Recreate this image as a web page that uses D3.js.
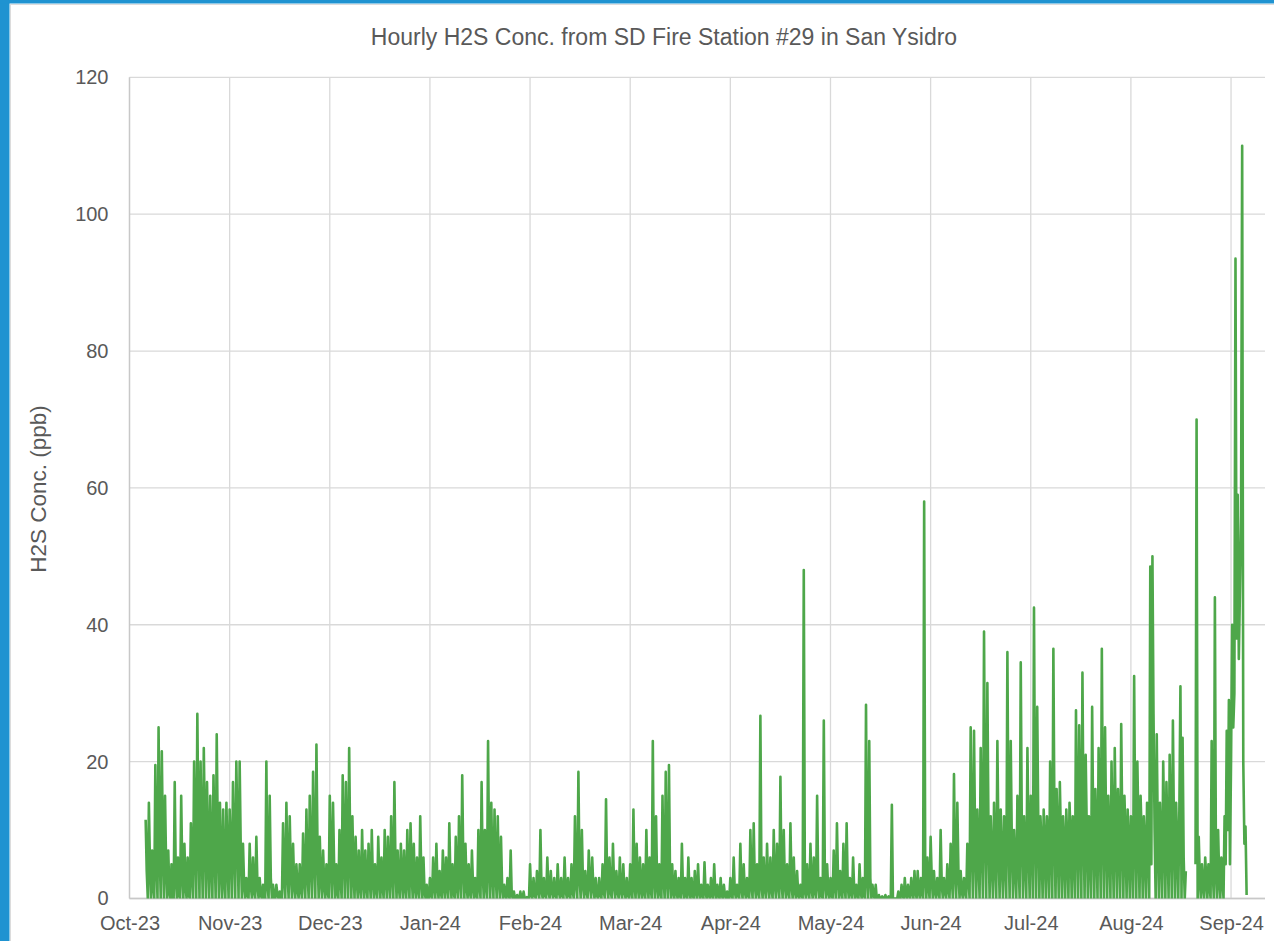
<!DOCTYPE html>
<html>
<head>
<meta charset="utf-8">
<script src="https://cdn.jsdelivr.net/npm/d3@7"></script>
<style>
  html, body { margin: 0; padding: 0; background: #ffffff; }
  svg { display: block; }
</style>
</head>
<body>
<svg id="chart" width="1274" height="941"></svg>
<script>
// ---------------- DATA ----------------
// 8-hourly readings (00:00, 08:00, 16:00 of each day), starting on the 1st of each month; null = no data
const title = "Hourly H2S Conc. from SD Fire Station #29 in San Ysidro";
const yAxisTitle = "H2S Conc. (ppb)";
const yTicks = [0, 20, 40, 60, 80, 100, 120];
const monthLabels = ["Oct-23","Nov-23","Dec-23","Jan-24","Feb-24","Mar-24","Apr-24","May-24","Jun-24","Jul-24","Aug-24","Sep-24"];

const oct23 = [null,null,null, null,null,null, null,null,null, null,null,null, null,null,null,
  11.5,4,0, 14,5,0, 7,2,0, 19.5,6,0, 25,7,0, 21.5,8,0, 15,5,0, 7,1,0, 5,0,0, 17,3,0, 6,0.5,0, 15,4,0, 8,2,0,
  6,0.5,0, 11,4,0, 20,9,0, 27,10,0, 20,8,0, 22,10,0, 17,7,0, 15,6,0, 18,8,0, 24,9,0, 14,5,0, 13,3,0, 14,6,0];
const nov23 = [13,7,0, 17,8,0, 20,10,0, 20,7,0, 8,2,0, 3,0.5,0, 8,2,0, 6,1,0, 9,2,0, 3,0.5,0, 2,0,0, 20,2,0, 15,3,0, 2,0,0, 2,0.5,0,
  1,0,0, 11,3,0, 14,4,0, 12,4,0, 8,2,0, 5,1.5,0, 5,1.5,0, 9.5,3,0, 13,4,0, 15,5,0, 18.5,6,0, 22.5,7,0, 9,3,0, 7,2,0, 5,1,0];
const dec23 = [15,5,0, 14,5,0, 5,1,0, 10,3,0, 18,7,0, 17,6,0, 22,7,0, 12,4,0, 9,3,0, 7,2,0, 10,3,0, 7,2,0, 8,3,0, 10,3,0, 5,1.5,0, 9,3,0,
  6,2,0, 10,3,0, 9,3,0, 12,4,0, 17,5,0, 7,2,0, 8,3,0, 7,2,0, 10,3,0, 11,4,0, 8,2,0, 6,1.5,0, 12,3,0, 6,1,0, 2,0,0];
const jan24 = [3,0.5,0, 6,2,0, 8,2,0, 4,1,0, 7,2,0, 6,2,0, 11,3,0, 5,1,0, 9,2,0, 12,3,0, 18,5,0, 8,2,0, 5,1,0, 7,2,0, 3,0.5,0, 10,2,0,
  17,4,0, 10,2,0, 23,5,0, 14,4,0, 13,4,0, 12,3,0, 9,2,0, 2,0.5,0, 3,0.5,0, 7,0.5,0, 1,0,0, 0.5,0,0, 1,0,0, 1,0,0, 0.2,0,0];
const feb24 = [5,0.5,0, 3,0.5,0, 4,1,0, 10,1,0, 3,0.5,0, 6,1,0, 4,1,0, 3,0.5,0, 5,1,0, 3,0.5,0, 6,1,0, 3,0.5,0, 5,1,0, 12,2,0, 18.5,3,0,
  10,2,0, 4,1,0, 7,2,0, 6,1.5,0, 3,0.5,0, 3,0.5,0, 5,1,0, 14.5,2,0, 6,1,0, 8,2,0, 4,1,0, 6,1,0, 5,1,0, 3,0.5,0];
const mar24 = [5,1,0, 13,2,0, 8,2,0, 6,1.5,0, 5,1,0, 10,2,0, 6,1.5,0, 23,3,0, 12,2,0, 5,1,0, 15,3,0, 18.5,3,0, 19.5,3,0, 5,1,0, 4,1,0, 3,0.5,0,
  8,1.5,0, 3,0.5,0, 6,1,0, 3,0.5,0, 4,1,0, 5,1,0, 2,0.5,0, 5.3,1,0, 2,0.5,0, 3,0.5,0, 5,1,0, 2,0.5,0, 3,0.5,0, 2,0.5,0, 1,0,0];
const apr24 = [3,0.5,0, 6,1,0, 2,0.5,0, 8,1.5,0, 5,1,0, 3,0.5,0, 10,2,0, 11,2,0, 5,1,0, 26.7,2,0, 6,1.5,0, 8,2,0, 6,1.5,0, 10,2,0, 8,2,0,
  17.8,2.5,0, 10,2,0, 5,1,0, 11,2,0, 6,1,0, 4,0.5,0, 2,0.5,0, 48,1,0, 5,1,0, 8,1.5,0, 6,1,0, 15,2,0, 3,0.5,0, 26,2,0, 5,1,0];
const may24 = [3,0.5,0, 7,2,0, 11,3,0, 4,1,0, 8,2,0, 11,2,0, 3,1,0, 6,1.5,0, 2,0.5,0, 5,1,0, 3,0.5,0, 28.3,3,0, 23,3,0, 2,0.5,0, 2,0,0, 0.5,0,0,
  0.3,0,0, 0.5,0,0, 0.3,0,0, 13.7,0,0, 0,0,0, 1,0,0, 2,0.5,0, 3,0.5,0, 2,0.5,0, 3,1,0, 4,1,0, 4,1,0, 3,1,0, 58,3,0, 6,2,0];
const jun24 = [9,3,0, 4,1,0, 3,1,0, 10,2,0, 3,1,0, 5,1.5,0, 8,3,0, 18.2,4,0, 14,4,0, 4,1,0, 3,1,0, 8,3,0, 25,8,0, 24.5,8,0, 13,6,0,
  22,8,0, 39,10,0, 31.5,10,0, 12,6,0, 14,6,0, 23,8,0, 13,6,0, 12,6,0, 36,9,0, 23,8,0, 10,5,0, 15,6,0, 34.5,9,0, 12,6,0, 22,8,0];
const jul24 = [15,9,0, 42.5,11,0, 28,11,0, 12,8,0, 13,8,0, 12,8,0, 20,9,0, 36.5,11,0, 16,9,0, 17,9,0, 12,8,0, 13,8,0, 14,9,0, 12,8,0, 27.5,10,0, 25.3,10,0,
  33,11,0, 21,10,0, 12,8,0, 28,10,0, 16,9,0, 22,10,0, 36.5,11,0, 25,10,0, 15,9,0, 20,9,0, 22,10,0, 16,9,0, 25.5,10,0, 15,9,0, 13,8,0];
const aug24 = [12,8,0, 32.5,10,0, 20,10,0, 15,9,0, 12,8,0, 14,9,0, 48.5,5,50, 27,10,0, 24,9,0, 14,8,0, 20,10,0, 17,9,0, 21,10,0, 26,10,0, 14,8,0, 13,31,0,
  23.5,6,0, 4,null,null, null,null,null, null,null,null, 5,70,0, 9,3,0, 5,2,0, 6,3,0, 5,2,0, 23,4,0, 44,4,0, 10,3,0, 6,3,0, 12,5,24.5, 10,29,5];
const sep24 = [20,40,25, 30,93.5,38, 59,35,45, 56,110,20, 8,10.5,0.5];

const monthSeries = [
  {year: 2023, month: 9,  values: oct23},
  {year: 2023, month: 10, values: nov23},
  {year: 2023, month: 11, values: dec23},
  {year: 2024, month: 0,  values: jan24},
  {year: 2024, month: 1,  values: feb24},
  {year: 2024, month: 2,  values: mar24},
  {year: 2024, month: 3,  values: apr24},
  {year: 2024, month: 4,  values: may24},
  {year: 2024, month: 5,  values: jun24},
  {year: 2024, month: 6,  values: jul24},
  {year: 2024, month: 7,  values: aug24},
  {year: 2024, month: 8,  values: sep24}
];
const stepHours = 8;

// ---------------- LAYOUT ----------------
const W = 1274, H = 941;
const plot = {left: 129.5, top: 77.3, bottom: 898.5, right: 1265};
const monthStep = 100.14;
const textColor = "#595959";
const lineColor = "#4ea74a";
const font = "'Liberation Sans', Arial, sans-serif";

const svg = d3.select("#chart");

// frame (screenshot border)
svg.append("rect").attr("x", 0).attr("y", 0).attr("width", W).attr("height", H).attr("fill", "#ffffff");
svg.append("rect").attr("x", 0).attr("y", 0).attr("width", 9.5).attr("height", H).attr("fill", "#1f93d1");
svg.append("rect").attr("x", 0).attr("y", 0).attr("width", W).attr("height", 3.5).attr("fill", "#1f93d1");
svg.append("line").attr("x1", 10.5).attr("x2", 10.5).attr("y1", 4).attr("y2", H).attr("stroke", "#dcdcdc").attr("stroke-width", 1);
svg.append("line").attr("x1", 10).attr("x2", W).attr("y1", 4.5).attr("y2", 4.5).attr("stroke", "#dcdcdc").attr("stroke-width", 1);

// scales (each month occupies an equal width, as in the original chart)
const monthStarts = d3.range(13).map(i => new Date(2023, 9 + i, 1));
const x = d3.scaleTime()
  .domain(monthStarts)
  .range(monthStarts.map((d, i) => plot.left + i * monthStep));
const y = d3.scaleLinear().domain([0, 120]).range([plot.bottom, plot.top]);

// gridlines
const grid = svg.append("g");
grid.selectAll("line.h").data(yTicks).join("line")
  .attr("x1", plot.left).attr("x2", plot.right)
  .attr("y1", d => y(d)).attr("y2", d => y(d))
  .attr("stroke", "#d9d9d9").attr("stroke-width", 1.3);
grid.selectAll("line.v").data(monthStarts.slice(1, 12)).join("line")
  .attr("x1", d => x(d)).attr("x2", d => x(d))
  .attr("y1", plot.top).attr("y2", plot.bottom)
  .attr("stroke", "#d9d9d9").attr("stroke-width", 1.3);

// axis lines
svg.append("line").attr("x1", plot.left).attr("x2", plot.left)
  .attr("y1", plot.top).attr("y2", plot.bottom)
  .attr("stroke", "#c8c8c8").attr("stroke-width", 1.5);
svg.append("line").attr("x1", plot.left).attr("x2", plot.right)
  .attr("y1", plot.bottom).attr("y2", plot.bottom)
  .attr("stroke", "#c8c8c8").attr("stroke-width", 1.5);

// data points
const points = [];
monthSeries.forEach(ms => {
  ms.values.forEach((v, k) => {
    points.push({date: new Date(ms.year, ms.month, 1, k * stepHours), v: v});
  });
});

svg.append("clipPath").attr("id", "clip").append("rect")
  .attr("x", plot.left).attr("y", plot.top - 2)
  .attr("width", plot.right - plot.left).attr("height", plot.bottom - plot.top + 2);

const line = d3.line()
  .defined(d => d.v !== null)
  .x(d => x(d.date))
  .y(d => y(d.v));

svg.append("path")
  .datum(points)
  .attr("clip-path", "url(#clip)")
  .attr("fill", "none")
  .attr("stroke", lineColor)
  .attr("stroke-width", 2.6)
  .attr("stroke-linejoin", "round")
  .attr("d", line);

// y axis
const yAxis = svg.append("g")
  .attr("transform", `translate(${plot.left},0)`)
  .call(d3.axisLeft(y).tickValues(yTicks).tickSize(0).tickPadding(21));
yAxis.select(".domain").remove();
yAxis.selectAll("text")
  .attr("fill", textColor)
  .style("font-family", font)
  .style("font-size", "20px");

// x axis
const xAxis = svg.append("g")
  .attr("transform", `translate(0,${plot.bottom})`)
  .call(d3.axisBottom(x).tickValues(monthStarts.slice(0, 12))
    .tickFormat((d, i) => monthLabels[i]).tickSize(0).tickPadding(17));
xAxis.select(".domain").remove();
xAxis.selectAll("text")
  .attr("fill", textColor)
  .style("font-family", font)
  .style("font-size", "20px");

// titles
svg.append("text")
  .attr("x", 664).attr("y", 45)
  .attr("text-anchor", "middle")
  .attr("fill", textColor)
  .style("font-family", font)
  .style("font-size", "23px")
  .text(title);

svg.append("text")
  .attr("transform", `translate(46,489) rotate(-90)`)
  .attr("text-anchor", "middle")
  .attr("fill", textColor)
  .style("font-family", font)
  .style("font-size", "22.5px")
  .text(yAxisTitle);
</script>
</body>
</html>
